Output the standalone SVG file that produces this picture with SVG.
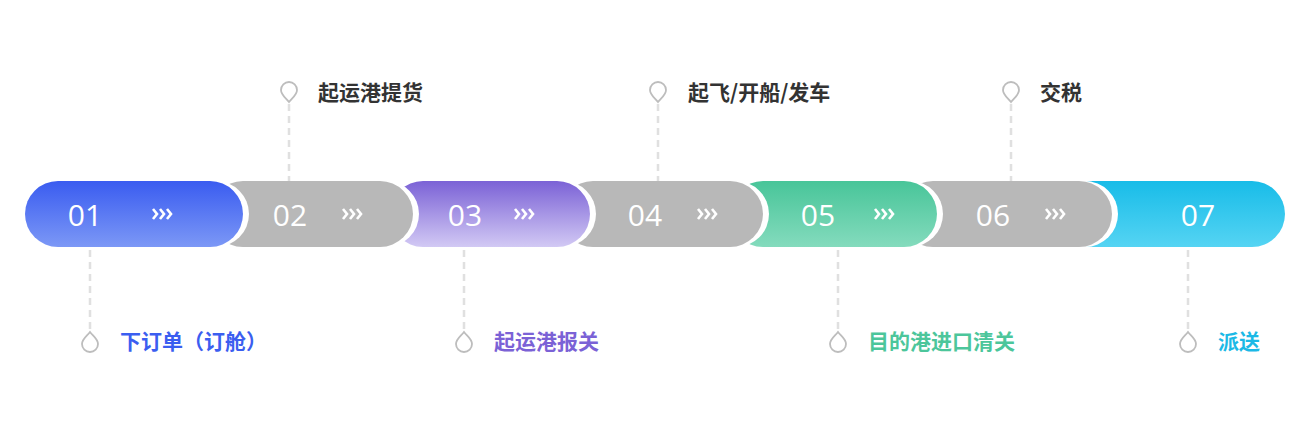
<svg xmlns="http://www.w3.org/2000/svg" width="1313" height="431" viewBox="0 0 1313 431">
<defs>
<linearGradient id="gb" x1="0" y1="0" x2="0" y2="1"><stop offset="0" stop-color="#3a5cf0"/><stop offset="1" stop-color="#7c98f6"/></linearGradient>
<linearGradient id="gp" x1="0" y1="0" x2="0" y2="1"><stop offset="0" stop-color="#7b62d6"/><stop offset="1" stop-color="#d2c9f4"/></linearGradient>
<linearGradient id="gg" x1="0" y1="0" x2="0" y2="1"><stop offset="0" stop-color="#48c599"/><stop offset="1" stop-color="#84dbbd"/></linearGradient>
<linearGradient id="gc" x1="0" y1="0" x2="0" y2="1"><stop offset="0" stop-color="#18bce8"/><stop offset="1" stop-color="#55d4f3"/></linearGradient>
<path id="chev" d="M0,-5 L4,0 L0,5 M7,-5 L11,0 L7,5 M14,-5 L18,0 L14,5" fill="none" stroke="#fff" stroke-width="2.6"/>
<path id="pinD" d="M0,10 C-3,6 -8,3 -8,-2 A8,8 0 1 1 8,-2 C8,3 3,6 0,10 Z" fill="#fff" stroke="#bdbdbd" stroke-width="1.8"/>
<path id="pinU" d="M0,-10 C-3,-6 -8,-3 -8,2 A8,8 0 1 0 8,2 C8,-3 3,-6 0,-10 Z" fill="#fff" stroke="#bdbdbd" stroke-width="1.8"/>
</defs>
<style>
.num{font-family:"Open Sans","Noto Sans",sans-serif;font-size:30px;fill:#fff;text-anchor:middle}
.lbl{font-family:"Noto Sans CJK SC",sans-serif;font-size:21px;font-weight:bold}
.halo{fill:#fff}
.dash{stroke:#e0e0e0;stroke-width:2.5;stroke-dasharray:7 5;fill:none}
</style>
<g id="connectors">
<line class="dash" x1="289" y1="104" x2="289" y2="181"/>
<line class="dash" x1="658" y1="104" x2="658" y2="181"/>
<line class="dash" x1="1011" y1="104" x2="1011" y2="181"/>
<line class="dash" x1="90" y1="250" x2="90" y2="330"/>
<line class="dash" x1="464" y1="250" x2="464" y2="330"/>
<line class="dash" x1="838" y1="250" x2="838" y2="330"/>
<line class="dash" x1="1188" y1="250" x2="1188" y2="330"/>
</g>
<g id="s07"><rect x="1060" y="181" width="225" height="66" rx="33" fill="url(#gc)"/><text class="num" x="1198" y="226">07</text></g>
<g id="s06"><rect class="halo" x="900" y="181" width="218" height="66" rx="33"/><rect x="900" y="181" width="212" height="66" rx="33" fill="#b8b8b8"/><text class="num" x="993" y="226">06</text><use href="#chev" x="1046" y="214"/></g>
<g id="s05"><rect class="halo" x="730" y="181" width="213" height="66" rx="33"/><rect x="730" y="181" width="207" height="66" rx="33" fill="url(#gg)"/><text class="num" x="818" y="226">05</text><use href="#chev" x="875" y="214"/></g>
<g id="s04"><rect class="halo" x="560" y="181" width="209" height="66" rx="33"/><rect x="560" y="181" width="203" height="66" rx="33" fill="#b8b8b8"/><text class="num" x="645" y="226">04</text><use href="#chev" x="698" y="214"/></g>
<g id="s03"><rect class="halo" x="390" y="181" width="206" height="66" rx="33"/><rect x="390" y="181" width="200" height="66" rx="33" fill="url(#gp)"/><text class="num" x="465" y="226">03</text><use href="#chev" x="515" y="214"/></g>
<g id="s02"><rect class="halo" x="210" y="181" width="209" height="66" rx="33"/><rect x="210" y="181" width="203" height="66" rx="33" fill="#b8b8b8"/><text class="num" x="290" y="226">02</text><use href="#chev" x="343" y="214"/></g>
<g id="s01"><rect class="halo" x="25" y="181" width="224" height="66" rx="33"/><rect x="25" y="181" width="218" height="66" rx="33" fill="url(#gb)"/><text class="num" x="85" y="226">01</text><use href="#chev" x="153" y="214"/></g>
<g id="t02"><use href="#pinD" x="289" y="92"/><text class="lbl" x="318" y="100" fill="#333">起运港提货</text></g>
<g id="t04"><use href="#pinD" x="658" y="92"/><text class="lbl" x="688" y="100" fill="#333">起飞/开船/发车</text></g>
<g id="t06"><use href="#pinD" x="1011" y="92"/><text class="lbl" x="1040" y="100" fill="#333">交税</text></g>
<g id="b01"><use href="#pinU" x="90" y="342"/><text class="lbl" x="120" y="349" fill="#3b5ef0">下订单（订舱）</text></g>
<g id="b03"><use href="#pinU" x="464" y="342"/><text class="lbl" x="494" y="349" fill="#7b62d6">起运港报关</text></g>
<g id="b05"><use href="#pinU" x="838" y="342"/><text class="lbl" x="868" y="349" fill="#4cc69b">目的港进口清关</text></g>
<g id="b07"><use href="#pinU" x="1188" y="342"/><text class="lbl" x="1218" y="349" fill="#1bb9e6">派送</text></g>
</svg>
